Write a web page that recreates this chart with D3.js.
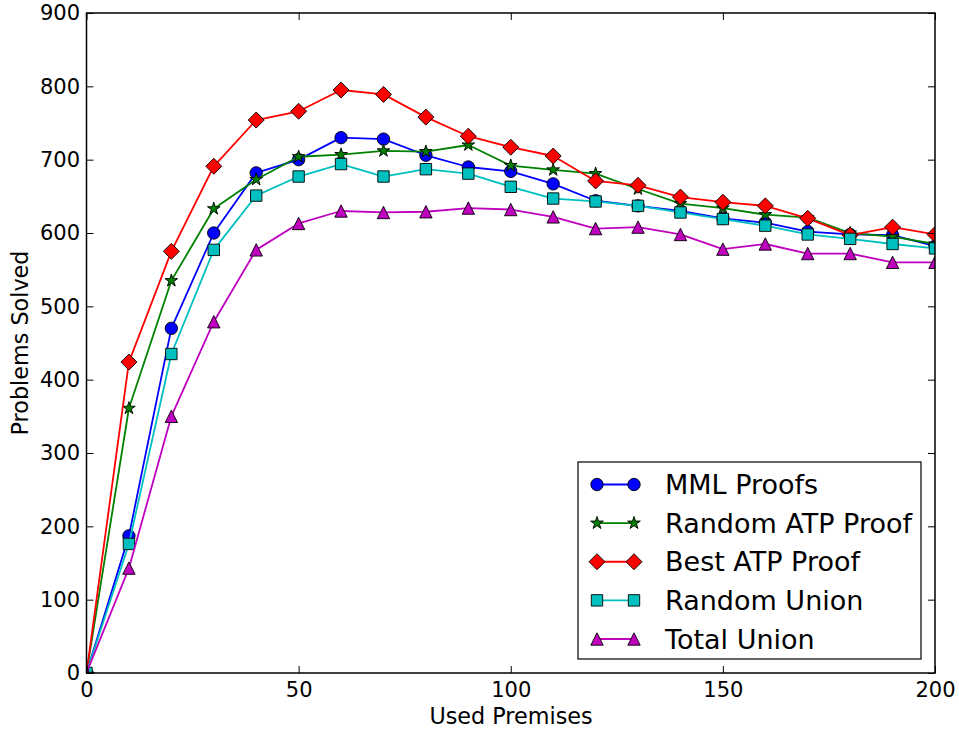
<!DOCTYPE html>
<html>
<head>
<meta charset="utf-8">
<script src="https://cdn.jsdelivr.net/npm/d3@7"></script>
<style>
  body { margin: 0; padding: 0; background: #fff; }
  text { font-family: "DejaVu Sans", sans-serif; fill: #000; }
</style>
</head>
<body>
<script>
const premises = [0,10,20,30,40,50,60,70,80,90,100,110,120,130,140,150,160,170,180,190,200];

const mmlProofs     = [0,187,470,600,682,700,730,728,706,690,684,667,644,637,630,620,614,602,598,597,582];
const randomAtp     = [0,361,535,633,673,704,707,712,711,720,692,686,681,660,640,634,625,621,600,595,585];
const bestAtp       = [0,424,575,691,754,766,795,789,758,732,717,705,671,665,649,642,637,620,597,608,598];
const randomUnion   = [0,176,435,577,651,677,694,677,687,681,663,647,643,637,628,619,610,598,592,585,579];
const totalUnion    = [0,143,350,479,577,613,630,628,629,634,632,622,606,608,598,578,585,572,572,560,560];

const seriesNames  = ["MML Proofs","Random ATP Proof","Best ATP Proof","Random Union","Total Union"];
const seriesValues = [mmlProofs, randomAtp, bestAtp, randomUnion, totalUnion];
const seriesColors = ["#0000ff","#008000","#ff0000","#00bfbf","#bf00bf"];
const seriesMarks  = ["circle","star","diamond","square","triangle"];

const xTicks = [0,50,100,150,200];
const yTicks = [0,100,200,300,400,500,600,700,800,900];

const width = 959, height = 732;
const pL = 86.5, pR = 935, pT = 13, pB = 673;

const svg = d3.select("body").append("svg")
  .attr("width", width)
  .attr("height", height);

svg.append("defs").append("clipPath").attr("id","plotclip")
  .append("rect")
  .attr("x",pL).attr("y",pT).attr("width",pR-pL).attr("height",pB-pT);

const x = d3.scaleLinear().domain([0,200]).range([pL,pR]);
const y = d3.scaleLinear().domain([0,900]).range([pB,pT]);

// marker path generator, centred on 0,0
const marker = (kind) => {
  if (kind === "circle") return d3.symbol(d3.symbolCircle, Math.PI*6.2*6.2)();
  if (kind === "star") return d3.symbol(d3.symbolStar, 50)();
  if (kind === "diamond") { const r = 8; return `M0,${-r}L${r},0L0,${r}L${-r},0Z`; }
  if (kind === "square") { const r = 5.7; return `M${-r},${-r}H${r}V${r}H${-r}Z`; }
  if (kind === "triangle") { const r = 6.2; return `M0,${-r}L${r},${r}L${-r},${r}Z`; }
};

// series: line then markers, in order (clipped to the axes box)
const line = d3.line().x((d,i)=>x(premises[i])).y(d=>y(d));

const plot = svg.append("g").attr("clip-path","url(#plotclip)");
seriesValues.forEach((vals,k)=>{
  plot.append("path")
    .attr("d", line(vals))
    .attr("fill","none")
    .attr("stroke", seriesColors[k])
    .attr("stroke-width",1.8)
    .attr("stroke-linejoin","round");
  plot.append("g").selectAll("path")
    .data(vals)
    .join("path")
      .attr("transform",(d,i)=>`translate(${x(premises[i])},${y(d)})`)
      .attr("d", marker(seriesMarks[k]))
      .attr("fill", seriesColors[k])
      .attr("stroke","#000")
      .attr("stroke-width",0.9);
});

// axes: ticks inward on all four sides
const tickFont = "21px";
const gx = svg.append("g")
  .attr("transform",`translate(0,${pB})`)
  .call(d3.axisBottom(x).tickValues(xTicks).tickSizeInner(-7).tickSizeOuter(0).tickPadding(9));
const gy = svg.append("g")
  .attr("transform",`translate(${pL},0)`)
  .call(d3.axisLeft(y).tickValues(yTicks).tickSizeInner(-7).tickSizeOuter(0).tickPadding(6.5));
const gt = svg.append("g")
  .attr("transform",`translate(0,${pT})`)
  .call(d3.axisTop(x).tickValues(xTicks).tickSizeInner(-7).tickSizeOuter(0).tickFormat(""));
const gr = svg.append("g")
  .attr("transform",`translate(${pR},0)`)
  .call(d3.axisRight(y).tickValues(yTicks).tickSizeInner(-7).tickSizeOuter(0).tickFormat(""));

[gx,gy,gt,gr].forEach(g=>{
  g.select(".domain").remove();
  g.selectAll(".tick line").attr("stroke","#000").attr("stroke-width",1);
  g.selectAll(".tick text").style("font-size",tickFont).attr("font-family",null);
});

// frame
svg.append("rect")
  .attr("x",pL).attr("y",pT)
  .attr("width",pR-pL).attr("height",pB-pT)
  .attr("fill","none").attr("stroke","#000").attr("stroke-width",1.5);

// axis labels
svg.append("text")
  .attr("x",511).attr("y",724)
  .attr("text-anchor","middle")
  .style("font-size","22.3px")
  .text("Used Premises");
svg.append("text")
  .attr("transform",`translate(28,${(pT+pB)/2}) rotate(-90)`)
  .attr("text-anchor","middle")
  .style("font-size","22.3px")
  .text("Problems Solved");

// legend
const lg = svg.append("g");
lg.append("rect")
  .attr("x",578).attr("y",462)
  .attr("width",343).attr("height",197)
  .attr("fill","#fff").attr("stroke","#000").attr("stroke-width",1.2);
const rowY = d3.scalePoint().domain(seriesNames).range([484.5,639]);
seriesNames.forEach((name,k)=>{
  const yy = rowY(name);
  lg.append("line")
    .attr("x1",597).attr("x2",634).attr("y1",yy).attr("y2",yy)
    .attr("stroke",seriesColors[k]).attr("stroke-width",1.8);
  [597,634].forEach(mx=>{
    lg.append("path")
      .attr("transform",`translate(${mx},${yy})`)
      .attr("d", marker(seriesMarks[k]))
      .attr("fill", seriesColors[k])
      .attr("stroke","#000").attr("stroke-width",0.9);
  });
  lg.append("text")
    .attr("x",665).attr("y",yy).attr("dy","0.36em")
    .style("font-size","27px")
    .text(name);
});
</script>
</body>
</html>
